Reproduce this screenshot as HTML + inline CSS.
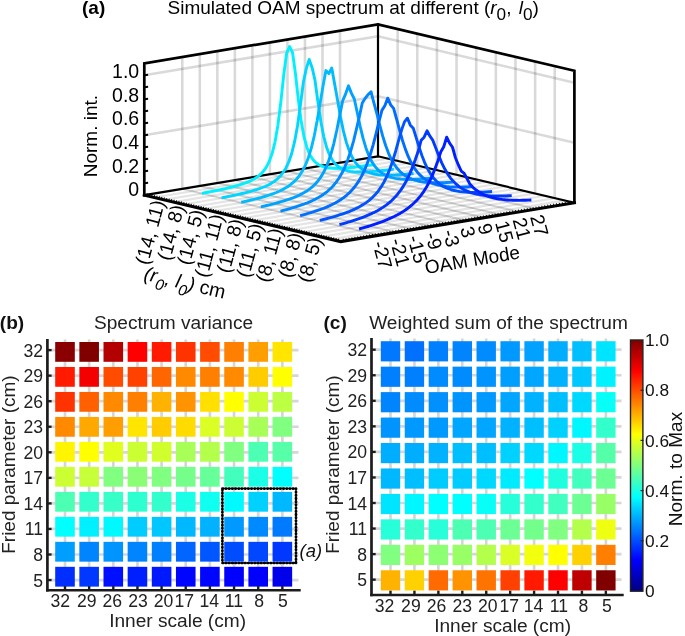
<!DOCTYPE html>
<html><head><meta charset="utf-8"><title>Figure</title>
<style>
html,body{margin:0;padding:0;background:#fff;}
svg{display:block;font-family:'Liberation Sans', sans-serif;}
</style></head><body>
<svg width="685" height="636" viewBox="0 0 685 636">
<rect width="685" height="636" fill="#fff"/>
<g id="panel-a">
<line x1="182.28" y1="188.88" x2="182.28" y2="56.98" stroke="#000" stroke-opacity="0.15" stroke-width="2.6"/>
<line x1="199.80" y1="185.96" x2="199.80" y2="54.06" stroke="#000" stroke-opacity="0.15" stroke-width="2.6"/>
<line x1="217.33" y1="183.04" x2="217.33" y2="51.14" stroke="#000" stroke-opacity="0.15" stroke-width="2.6"/>
<line x1="234.86" y1="180.13" x2="234.86" y2="48.23" stroke="#000" stroke-opacity="0.15" stroke-width="2.6"/>
<line x1="252.39" y1="177.21" x2="252.39" y2="45.31" stroke="#000" stroke-opacity="0.15" stroke-width="2.6"/>
<line x1="269.91" y1="174.29" x2="269.91" y2="42.39" stroke="#000" stroke-opacity="0.15" stroke-width="2.6"/>
<line x1="287.44" y1="171.37" x2="287.44" y2="39.47" stroke="#000" stroke-opacity="0.15" stroke-width="2.6"/>
<line x1="304.97" y1="168.46" x2="304.97" y2="36.56" stroke="#000" stroke-opacity="0.15" stroke-width="2.6"/>
<line x1="322.50" y1="165.54" x2="322.50" y2="33.64" stroke="#000" stroke-opacity="0.15" stroke-width="2.6"/>
<line x1="340.02" y1="162.62" x2="340.02" y2="30.72" stroke="#000" stroke-opacity="0.15" stroke-width="2.6"/>
<line x1="144.30" y1="135.20" x2="378.00" y2="96.30" stroke="#000" stroke-opacity="0.15" stroke-width="2.6"/>
<line x1="378.00" y1="96.30" x2="574.40" y2="142.70" stroke="#000" stroke-opacity="0.15" stroke-width="2.6"/>
<line x1="144.30" y1="75.20" x2="378.00" y2="36.30" stroke="#000" stroke-opacity="0.15" stroke-width="2.6"/>
<line x1="378.00" y1="36.30" x2="574.40" y2="82.70" stroke="#000" stroke-opacity="0.15" stroke-width="2.6"/>
<line x1="397.64" y1="160.94" x2="397.64" y2="29.04" stroke="#000" stroke-opacity="0.15" stroke-width="2.6"/>
<line x1="417.28" y1="165.58" x2="417.28" y2="33.68" stroke="#000" stroke-opacity="0.15" stroke-width="2.6"/>
<line x1="436.92" y1="170.22" x2="436.92" y2="38.32" stroke="#000" stroke-opacity="0.15" stroke-width="2.6"/>
<line x1="456.56" y1="174.86" x2="456.56" y2="42.96" stroke="#000" stroke-opacity="0.15" stroke-width="2.6"/>
<line x1="476.20" y1="179.50" x2="476.20" y2="47.60" stroke="#000" stroke-opacity="0.15" stroke-width="2.6"/>
<line x1="495.84" y1="184.14" x2="495.84" y2="52.24" stroke="#000" stroke-opacity="0.15" stroke-width="2.6"/>
<line x1="515.48" y1="188.78" x2="515.48" y2="56.88" stroke="#000" stroke-opacity="0.15" stroke-width="2.6"/>
<line x1="535.12" y1="193.42" x2="535.12" y2="61.52" stroke="#000" stroke-opacity="0.15" stroke-width="2.6"/>
<line x1="554.76" y1="198.06" x2="554.76" y2="66.16" stroke="#000" stroke-opacity="0.15" stroke-width="2.6"/>
<line x1="154.12" y1="197.52" x2="387.82" y2="158.62" stroke="#000" stroke-opacity="0.105" stroke-width="2.2"/>
<line x1="163.94" y1="199.84" x2="397.64" y2="160.94" stroke="#000" stroke-opacity="0.105" stroke-width="2.2"/>
<line x1="173.76" y1="202.16" x2="407.46" y2="163.26" stroke="#000" stroke-opacity="0.105" stroke-width="2.2"/>
<line x1="183.58" y1="204.48" x2="417.28" y2="165.58" stroke="#000" stroke-opacity="0.105" stroke-width="2.2"/>
<line x1="193.40" y1="206.80" x2="427.10" y2="167.90" stroke="#000" stroke-opacity="0.105" stroke-width="2.2"/>
<line x1="203.22" y1="209.12" x2="436.92" y2="170.22" stroke="#000" stroke-opacity="0.105" stroke-width="2.2"/>
<line x1="213.04" y1="211.44" x2="446.74" y2="172.54" stroke="#000" stroke-opacity="0.105" stroke-width="2.2"/>
<line x1="222.86" y1="213.76" x2="456.56" y2="174.86" stroke="#000" stroke-opacity="0.105" stroke-width="2.2"/>
<line x1="232.68" y1="216.08" x2="466.38" y2="177.18" stroke="#000" stroke-opacity="0.105" stroke-width="2.2"/>
<line x1="242.50" y1="218.40" x2="476.20" y2="179.50" stroke="#000" stroke-opacity="0.105" stroke-width="2.2"/>
<line x1="252.32" y1="220.72" x2="486.02" y2="181.82" stroke="#000" stroke-opacity="0.105" stroke-width="2.2"/>
<line x1="262.14" y1="223.04" x2="495.84" y2="184.14" stroke="#000" stroke-opacity="0.105" stroke-width="2.2"/>
<line x1="271.96" y1="225.36" x2="505.66" y2="186.46" stroke="#000" stroke-opacity="0.105" stroke-width="2.2"/>
<line x1="281.78" y1="227.68" x2="515.48" y2="188.78" stroke="#000" stroke-opacity="0.105" stroke-width="2.2"/>
<line x1="291.60" y1="230.00" x2="525.30" y2="191.10" stroke="#000" stroke-opacity="0.105" stroke-width="2.2"/>
<line x1="301.42" y1="232.32" x2="535.12" y2="193.42" stroke="#000" stroke-opacity="0.105" stroke-width="2.2"/>
<line x1="311.24" y1="234.64" x2="544.94" y2="195.74" stroke="#000" stroke-opacity="0.105" stroke-width="2.2"/>
<line x1="321.06" y1="236.96" x2="554.76" y2="198.06" stroke="#000" stroke-opacity="0.105" stroke-width="2.2"/>
<line x1="330.88" y1="239.28" x2="564.58" y2="200.38" stroke="#000" stroke-opacity="0.105" stroke-width="2.2"/>
<line x1="182.28" y1="188.88" x2="378.68" y2="235.28" stroke="#000" stroke-opacity="0.17" stroke-width="2.0"/>
<line x1="199.80" y1="185.96" x2="396.20" y2="232.36" stroke="#000" stroke-opacity="0.17" stroke-width="2.0"/>
<line x1="217.33" y1="183.04" x2="413.73" y2="229.44" stroke="#000" stroke-opacity="0.17" stroke-width="2.0"/>
<line x1="234.86" y1="180.13" x2="431.26" y2="226.53" stroke="#000" stroke-opacity="0.17" stroke-width="2.0"/>
<line x1="252.39" y1="177.21" x2="448.79" y2="223.61" stroke="#000" stroke-opacity="0.17" stroke-width="2.0"/>
<line x1="269.91" y1="174.29" x2="466.31" y2="220.69" stroke="#000" stroke-opacity="0.17" stroke-width="2.0"/>
<line x1="287.44" y1="171.37" x2="483.84" y2="217.77" stroke="#000" stroke-opacity="0.17" stroke-width="2.0"/>
<line x1="304.97" y1="168.46" x2="501.37" y2="214.86" stroke="#000" stroke-opacity="0.17" stroke-width="2.0"/>
<line x1="322.50" y1="165.54" x2="518.90" y2="211.94" stroke="#000" stroke-opacity="0.17" stroke-width="2.0"/>
<line x1="340.02" y1="162.62" x2="536.42" y2="209.02" stroke="#000" stroke-opacity="0.17" stroke-width="2.0"/>
<g stroke="#000" stroke-width="2.2" fill="none" stroke-linejoin="miter" stroke-linecap="square">
<polyline points="144.30,195.20 378.00,156.30 574.40,202.70"/>
<polyline points="378.00,156.30 378.00,24.40"/>
</g>
<polyline points="201.92,193.32 204.84,192.77 207.76,192.21 210.68,191.64 213.60,191.07 216.52,190.47 219.44,189.87 222.37,189.24 225.29,188.60 228.21,187.93 231.13,187.22 234.05,186.48 236.97,185.69 239.89,184.83 242.81,183.90 245.74,182.86 248.66,181.69 251.58,180.35 254.50,178.76 257.42,176.84 260.34,174.45 263.26,171.38 266.18,167.31 269.11,161.72 272.03,153.79 274.95,142.28 277.87,125.52 280.79,102.31 283.71,75.03 286.63,53.28 289.55,46.53 292.48,52.31 295.40,73.08 298.32,99.39 301.24,121.63 304.16,137.42 307.08,147.96 310.00,154.91 312.92,159.53 315.85,162.63 318.77,164.73 321.69,166.14 324.61,167.09 327.53,167.71 330.45,168.08 333.37,168.28 336.29,168.34 339.22,168.30 342.14,168.18 345.06,168.00 347.98,167.77 350.90,167.50 353.82,167.20 356.74,166.88 359.66,166.53 362.59,166.16 365.51,165.78 368.43,165.39 371.35,164.98 374.27,164.57" fill="none" stroke="rgb(0,240,255)" stroke-width="2.9" stroke-linejoin="round" stroke-linecap="butt"/>
<polyline points="221.56,197.87 224.48,197.29 227.40,196.70 230.32,196.10 233.24,195.48 236.16,194.85 239.08,194.20 242.00,193.52 244.93,192.82 247.85,192.08 250.77,191.29 253.69,190.46 256.61,189.56 259.53,188.59 262.45,187.51 265.38,186.31 268.30,184.94 271.22,183.36 274.14,181.48 277.06,179.22 279.98,176.41 282.90,172.85 285.82,168.20 288.75,161.98 291.67,153.48 294.59,141.72 297.51,125.66 300.43,105.04 303.35,82.49 306.27,68.66 309.19,59.37 312.12,67.69 315.04,80.55 317.96,102.12 320.88,121.77 323.80,136.85 326.72,147.64 329.64,155.17 332.56,160.42 335.49,164.10 338.41,166.69 341.33,168.52 344.25,169.81 347.17,170.71 350.09,171.33 353.01,171.72 355.93,171.95 358.86,172.06 361.78,172.06 364.70,171.98 367.62,171.84 370.54,171.65 373.46,171.42 376.38,171.15 379.30,170.86 382.23,170.54 385.15,170.20 388.07,169.84 390.99,169.47 393.91,169.09" fill="none" stroke="rgb(0,214,255)" stroke-width="2.9" stroke-linejoin="round" stroke-linecap="butt"/>
<polyline points="241.20,202.29 244.12,201.65 247.04,200.99 249.96,200.32 252.88,199.62 255.80,198.89 258.72,198.13 261.65,197.34 264.57,196.50 267.49,195.60 270.41,194.65 273.33,193.62 276.25,192.49 279.17,191.25 282.09,189.86 285.01,188.30 287.94,186.50 290.86,184.42 293.78,181.95 296.70,178.97 299.62,175.34 302.54,170.80 305.46,165.06 308.38,157.69 311.31,148.18 314.23,135.98 317.15,120.83 320.07,103.37 322.99,86.14 325.91,70.58 328.83,73.61 331.75,67.99 334.68,84.20 337.60,100.45 340.52,116.94 343.44,131.12 346.36,142.35 349.28,150.89 352.20,157.28 355.12,162.05 358.05,165.61 360.97,168.28 363.89,170.28 366.81,171.77 369.73,172.89 372.65,173.71 375.57,174.30 378.50,174.72 381.42,174.99 384.34,175.14 387.26,175.20 390.18,175.18 393.10,175.10 396.02,174.97 398.94,174.79 401.87,174.58 404.79,174.33 407.71,174.06 410.63,173.76 413.55,173.45" fill="none" stroke="rgb(0,188,255)" stroke-width="2.9" stroke-linejoin="round" stroke-linecap="butt"/>
<polyline points="260.84,206.83 263.76,206.17 266.68,205.49 269.60,204.79 272.52,204.06 275.44,203.31 278.36,202.52 281.29,201.69 284.21,200.81 287.13,199.88 290.05,198.88 292.97,197.80 295.89,196.63 298.81,195.34 301.73,193.91 304.65,192.29 307.58,190.45 310.50,188.32 313.42,185.83 316.34,182.87 319.26,179.29 322.18,174.91 325.10,169.46 328.02,162.62 330.95,154.02 333.87,143.26 336.79,130.23 339.71,115.48 342.63,100.94 345.55,94.13 348.47,85.85 351.39,93.16 354.32,99.00 357.24,112.56 360.16,126.34 363.08,138.40 366.00,148.18 368.92,155.82 371.84,161.68 374.76,166.15 377.69,169.57 380.61,172.17 383.53,174.16 386.45,175.68 389.37,176.83 392.29,177.70 395.21,178.35 398.13,178.81 401.06,179.13 403.98,179.33 406.90,179.43 409.82,179.46 412.74,179.42 415.66,179.32 418.58,179.18 421.50,178.99 424.43,178.78 427.35,178.53 430.27,178.26 433.19,177.97" fill="none" stroke="rgb(0,162,255)" stroke-width="2.9" stroke-linejoin="round" stroke-linecap="butt"/>
<polyline points="280.48,211.12 283.40,210.38 286.32,209.60 289.24,208.80 292.16,207.96 295.08,207.08 298.00,206.16 300.93,205.18 303.85,204.14 306.77,203.02 309.69,201.82 312.61,200.51 315.53,199.08 318.45,197.51 321.37,195.75 324.30,193.77 327.22,191.53 330.14,188.95 333.06,185.96 335.98,182.44 338.90,178.28 341.82,173.31 344.74,167.31 347.67,160.07 350.59,151.36 353.51,141.03 356.43,129.22 359.35,116.56 362.27,102.98 365.19,98.23 368.11,94.53 371.04,91.82 373.96,103.10 376.88,113.65 379.80,125.33 382.72,136.17 385.64,145.52 388.56,153.27 391.48,159.53 394.41,164.56 397.33,168.56 400.25,171.75 403.17,174.29 406.09,176.31 409.01,177.91 411.93,179.19 414.85,180.19 417.77,180.97 420.70,181.58 423.62,182.04 426.54,182.37 429.46,182.60 432.38,182.74 435.30,182.81 438.22,182.82 441.14,182.77 444.07,182.68 446.99,182.54 449.91,182.37 452.83,182.17" fill="none" stroke="rgb(0,136,255)" stroke-width="2.9" stroke-linejoin="round" stroke-linecap="butt"/>
<polyline points="300.12,215.61 303.04,214.84 305.96,214.03 308.88,213.19 311.80,212.31 314.72,211.39 317.64,210.42 320.57,209.39 323.49,208.29 326.41,207.11 329.33,205.85 332.25,204.47 335.17,202.96 338.09,201.30 341.01,199.45 343.94,197.38 346.86,195.03 349.78,192.35 352.70,189.25 355.62,185.64 358.54,181.40 361.46,176.37 364.38,170.37 367.31,163.22 370.23,154.73 373.15,144.80 376.07,133.57 378.99,121.66 381.91,110.38 384.83,105.82 387.75,98.13 390.68,104.84 393.60,108.44 396.52,118.75 399.44,129.68 402.36,139.94 405.28,148.89 408.20,156.41 411.12,162.59 414.05,167.61 416.97,171.67 419.89,174.94 422.81,177.58 425.73,179.70 428.65,181.42 431.57,182.79 434.49,183.89 437.42,184.77 440.34,185.46 443.26,185.99 446.18,186.40 449.10,186.69 452.02,186.90 454.94,187.02 457.86,187.08 460.79,187.08 463.71,187.03 466.63,186.93 469.55,186.80 472.47,186.63" fill="none" stroke="rgb(0,110,255)" stroke-width="2.9" stroke-linejoin="round" stroke-linecap="butt"/>
<polyline points="319.76,220.44 322.68,219.71 325.60,218.97 328.52,218.19 331.44,217.39 334.36,216.55 337.28,215.67 340.21,214.74 343.13,213.76 346.05,212.72 348.97,211.60 351.89,210.40 354.81,209.10 357.73,207.67 360.65,206.09 363.58,204.34 366.50,202.36 369.42,200.12 372.34,197.55 375.26,194.56 378.18,191.07 381.10,186.93 384.02,182.00 386.95,176.09 389.87,169.02 392.79,160.65 395.71,151.00 398.63,140.47 401.55,130.14 404.47,121.89 407.39,118.17 410.32,125.18 413.24,128.19 416.16,137.56 419.08,147.11 422.00,155.79 424.92,163.19 427.84,169.28 430.76,174.22 433.69,178.18 436.61,181.34 439.53,183.87 442.45,185.88 445.37,187.48 448.29,188.75 451.21,189.75 454.13,190.53 457.06,191.13 459.98,191.59 462.90,191.92 465.82,192.15 468.74,192.30 471.66,192.37 474.58,192.37 477.50,192.33 480.43,192.23 483.35,192.10 486.27,191.93 489.19,191.74 492.11,191.51" fill="none" stroke="rgb(0,84,255)" stroke-width="2.9" stroke-linejoin="round" stroke-linecap="butt"/>
<polyline points="339.40,224.66 342.32,223.86 345.24,223.04 348.16,222.19 351.08,221.30 354.00,220.37 356.92,219.40 359.85,218.38 362.77,217.30 365.69,216.16 368.61,214.94 371.53,213.62 374.45,212.21 377.37,210.67 380.29,208.99 383.22,207.14 386.14,205.10 389.06,202.80 391.98,200.22 394.90,197.30 397.82,193.95 400.74,190.09 403.66,185.62 406.59,180.42 409.51,174.39 412.43,167.43 415.35,159.56 418.27,151.00 421.19,140.24 424.11,137.17 427.03,130.81 429.96,136.19 432.88,140.40 435.80,148.08 438.72,155.67 441.64,162.57 444.56,168.55 447.48,173.62 450.40,177.84 453.33,181.33 456.25,184.22 459.17,186.60 462.09,188.55 465.01,190.16 467.93,191.48 470.85,192.56 473.77,193.43 476.70,194.14 479.62,194.70 482.54,195.15 485.46,195.49 488.38,195.73 491.30,195.91 494.22,196.01 497.14,196.06 500.07,196.06 502.99,196.01 505.91,195.93 508.83,195.81 511.75,195.66" fill="none" stroke="rgb(0,58,255)" stroke-width="2.9" stroke-linejoin="round" stroke-linecap="butt"/>
<polyline points="359.04,229.01 361.96,228.20 364.88,227.36 367.80,226.49 370.72,225.58 373.64,224.64 376.56,223.66 379.49,222.63 382.41,221.54 385.33,220.40 388.25,219.19 391.17,217.90 394.09,216.51 397.01,215.02 399.93,213.41 402.86,211.65 405.78,209.72 408.70,207.58 411.62,205.20 414.54,202.53 417.46,199.51 420.38,196.07 423.30,192.11 426.23,187.53 429.15,182.21 432.07,176.01 434.99,168.83 437.91,160.67 440.83,151.79 443.75,146.77 446.67,137.25 449.60,143.22 452.52,147.24 455.44,157.75 458.36,164.94 461.28,171.15 464.20,173.43 467.12,178.81 470.04,184.33 472.97,187.32 475.89,189.79 478.81,191.84 481.73,193.53 484.65,194.94 487.57,196.10 490.49,197.06 493.41,197.85 496.34,198.49 499.26,199.01 502.18,199.42 505.10,199.74 508.02,199.98 510.94,200.15 513.86,200.26 516.78,200.32 519.71,200.33 522.63,200.30 525.55,200.23 528.47,200.13 531.39,200.00" fill="none" stroke="rgb(0,32,255)" stroke-width="2.9" stroke-linejoin="round" stroke-linecap="butt"/>
<g stroke="#000" stroke-width="2.7" fill="none" stroke-linejoin="miter" stroke-linecap="square">
<polyline points="144.30,195.20 144.30,63.30 378.00,24.40 574.40,70.80 574.40,202.70"/>
<polyline stroke-width="3.1" points="144.30,195.20 340.70,241.60 574.40,202.70"/>
</g>
<line x1="144.30" y1="195.20" x2="148.10" y2="194.80" stroke="#000" stroke-width="2.0" />
<line x1="144.30" y1="183.20" x2="148.10" y2="182.80" stroke="#000" stroke-width="2.0" />
<line x1="144.30" y1="171.20" x2="148.10" y2="170.80" stroke="#000" stroke-width="2.0" />
<line x1="144.30" y1="159.20" x2="148.10" y2="158.80" stroke="#000" stroke-width="2.0" />
<line x1="144.30" y1="147.20" x2="148.10" y2="146.80" stroke="#000" stroke-width="2.0" />
<line x1="144.30" y1="135.20" x2="148.10" y2="134.80" stroke="#000" stroke-width="2.0" />
<line x1="144.30" y1="123.20" x2="148.10" y2="122.80" stroke="#000" stroke-width="2.0" />
<line x1="144.30" y1="111.20" x2="148.10" y2="110.80" stroke="#000" stroke-width="2.0" />
<line x1="144.30" y1="99.20" x2="148.10" y2="98.80" stroke="#000" stroke-width="2.0" />
<line x1="144.30" y1="87.20" x2="148.10" y2="86.80" stroke="#000" stroke-width="2.0" />
<line x1="144.30" y1="75.20" x2="148.10" y2="74.80" stroke="#000" stroke-width="2.0" />
<line x1="146.76" y1="195.78" x2="147.16" y2="193.38" stroke="#000" stroke-width="1.0" />
<line x1="149.21" y1="196.36" x2="149.61" y2="193.96" stroke="#000" stroke-width="1.0" />
<line x1="151.67" y1="196.94" x2="152.07" y2="194.54" stroke="#000" stroke-width="1.0" />
<line x1="154.12" y1="197.52" x2="154.52" y2="195.12" stroke="#000" stroke-width="1.0" />
<line x1="156.58" y1="198.10" x2="156.98" y2="195.70" stroke="#000" stroke-width="1.0" />
<line x1="159.03" y1="198.68" x2="159.43" y2="196.28" stroke="#000" stroke-width="1.0" />
<line x1="161.49" y1="199.26" x2="161.89" y2="196.86" stroke="#000" stroke-width="1.0" />
<line x1="163.94" y1="199.84" x2="164.34" y2="197.44" stroke="#000" stroke-width="1.0" />
<line x1="166.40" y1="200.42" x2="166.80" y2="198.02" stroke="#000" stroke-width="1.0" />
<line x1="168.85" y1="201.00" x2="169.25" y2="198.60" stroke="#000" stroke-width="1.0" />
<line x1="171.31" y1="201.58" x2="171.71" y2="199.18" stroke="#000" stroke-width="1.0" />
<line x1="173.76" y1="202.16" x2="174.16" y2="199.76" stroke="#000" stroke-width="1.0" />
<line x1="176.22" y1="202.74" x2="176.62" y2="200.34" stroke="#000" stroke-width="1.0" />
<line x1="178.67" y1="203.32" x2="179.07" y2="200.92" stroke="#000" stroke-width="1.0" />
<line x1="181.12" y1="203.90" x2="181.53" y2="201.50" stroke="#000" stroke-width="1.0" />
<line x1="183.58" y1="204.48" x2="183.98" y2="202.08" stroke="#000" stroke-width="1.0" />
<line x1="186.04" y1="205.06" x2="186.44" y2="202.66" stroke="#000" stroke-width="1.0" />
<line x1="188.49" y1="205.64" x2="188.89" y2="203.24" stroke="#000" stroke-width="1.0" />
<line x1="190.95" y1="206.22" x2="191.35" y2="203.82" stroke="#000" stroke-width="1.0" />
<line x1="193.40" y1="206.80" x2="193.80" y2="204.40" stroke="#000" stroke-width="1.0" />
<line x1="195.86" y1="207.38" x2="196.26" y2="204.98" stroke="#000" stroke-width="1.0" />
<line x1="198.31" y1="207.96" x2="198.71" y2="205.56" stroke="#000" stroke-width="1.0" />
<line x1="200.77" y1="208.54" x2="201.17" y2="206.14" stroke="#000" stroke-width="1.0" />
<line x1="203.22" y1="209.12" x2="203.62" y2="206.72" stroke="#000" stroke-width="1.0" />
<line x1="205.68" y1="209.70" x2="206.08" y2="207.30" stroke="#000" stroke-width="1.0" />
<line x1="208.13" y1="210.28" x2="208.53" y2="207.88" stroke="#000" stroke-width="1.0" />
<line x1="210.59" y1="210.86" x2="210.99" y2="208.46" stroke="#000" stroke-width="1.0" />
<line x1="213.04" y1="211.44" x2="213.44" y2="209.04" stroke="#000" stroke-width="1.0" />
<line x1="215.50" y1="212.02" x2="215.90" y2="209.62" stroke="#000" stroke-width="1.0" />
<line x1="217.95" y1="212.60" x2="218.35" y2="210.20" stroke="#000" stroke-width="1.0" />
<line x1="220.41" y1="213.18" x2="220.81" y2="210.78" stroke="#000" stroke-width="1.0" />
<line x1="222.86" y1="213.76" x2="223.26" y2="211.36" stroke="#000" stroke-width="1.0" />
<line x1="225.32" y1="214.34" x2="225.72" y2="211.94" stroke="#000" stroke-width="1.0" />
<line x1="227.77" y1="214.92" x2="228.17" y2="212.52" stroke="#000" stroke-width="1.0" />
<line x1="230.23" y1="215.50" x2="230.63" y2="213.10" stroke="#000" stroke-width="1.0" />
<line x1="232.68" y1="216.08" x2="233.08" y2="213.68" stroke="#000" stroke-width="1.0" />
<line x1="235.14" y1="216.66" x2="235.54" y2="214.26" stroke="#000" stroke-width="1.0" />
<line x1="237.59" y1="217.24" x2="237.99" y2="214.84" stroke="#000" stroke-width="1.0" />
<line x1="240.05" y1="217.82" x2="240.45" y2="215.42" stroke="#000" stroke-width="1.0" />
<line x1="242.50" y1="218.40" x2="242.90" y2="216.00" stroke="#000" stroke-width="1.0" />
<line x1="244.96" y1="218.98" x2="245.36" y2="216.58" stroke="#000" stroke-width="1.0" />
<line x1="247.41" y1="219.56" x2="247.81" y2="217.16" stroke="#000" stroke-width="1.0" />
<line x1="249.87" y1="220.14" x2="250.27" y2="217.74" stroke="#000" stroke-width="1.0" />
<line x1="252.32" y1="220.72" x2="252.72" y2="218.32" stroke="#000" stroke-width="1.0" />
<line x1="254.78" y1="221.30" x2="255.18" y2="218.90" stroke="#000" stroke-width="1.0" />
<line x1="257.23" y1="221.88" x2="257.63" y2="219.48" stroke="#000" stroke-width="1.0" />
<line x1="259.69" y1="222.46" x2="260.09" y2="220.06" stroke="#000" stroke-width="1.0" />
<line x1="262.14" y1="223.04" x2="262.54" y2="220.64" stroke="#000" stroke-width="1.0" />
<line x1="264.60" y1="223.62" x2="265.00" y2="221.22" stroke="#000" stroke-width="1.0" />
<line x1="267.05" y1="224.20" x2="267.45" y2="221.80" stroke="#000" stroke-width="1.0" />
<line x1="269.50" y1="224.78" x2="269.90" y2="222.38" stroke="#000" stroke-width="1.0" />
<line x1="271.96" y1="225.36" x2="272.36" y2="222.96" stroke="#000" stroke-width="1.0" />
<line x1="274.42" y1="225.94" x2="274.81" y2="223.54" stroke="#000" stroke-width="1.0" />
<line x1="276.87" y1="226.52" x2="277.27" y2="224.12" stroke="#000" stroke-width="1.0" />
<line x1="279.33" y1="227.10" x2="279.73" y2="224.70" stroke="#000" stroke-width="1.0" />
<line x1="281.78" y1="227.68" x2="282.18" y2="225.28" stroke="#000" stroke-width="1.0" />
<line x1="284.24" y1="228.26" x2="284.63" y2="225.86" stroke="#000" stroke-width="1.0" />
<line x1="286.69" y1="228.84" x2="287.09" y2="226.44" stroke="#000" stroke-width="1.0" />
<line x1="289.15" y1="229.42" x2="289.55" y2="227.02" stroke="#000" stroke-width="1.0" />
<line x1="291.60" y1="230.00" x2="292.00" y2="227.60" stroke="#000" stroke-width="1.0" />
<line x1="294.06" y1="230.58" x2="294.46" y2="228.18" stroke="#000" stroke-width="1.0" />
<line x1="296.51" y1="231.16" x2="296.91" y2="228.76" stroke="#000" stroke-width="1.0" />
<line x1="298.97" y1="231.74" x2="299.37" y2="229.34" stroke="#000" stroke-width="1.0" />
<line x1="301.42" y1="232.32" x2="301.82" y2="229.92" stroke="#000" stroke-width="1.0" />
<line x1="303.88" y1="232.90" x2="304.27" y2="230.50" stroke="#000" stroke-width="1.0" />
<line x1="306.33" y1="233.48" x2="306.73" y2="231.08" stroke="#000" stroke-width="1.0" />
<line x1="308.79" y1="234.06" x2="309.19" y2="231.66" stroke="#000" stroke-width="1.0" />
<line x1="311.24" y1="234.64" x2="311.64" y2="232.24" stroke="#000" stroke-width="1.0" />
<line x1="313.70" y1="235.22" x2="314.10" y2="232.82" stroke="#000" stroke-width="1.0" />
<line x1="316.15" y1="235.80" x2="316.55" y2="233.40" stroke="#000" stroke-width="1.0" />
<line x1="318.61" y1="236.38" x2="319.00" y2="233.98" stroke="#000" stroke-width="1.0" />
<line x1="321.06" y1="236.96" x2="321.46" y2="234.56" stroke="#000" stroke-width="1.0" />
<line x1="323.52" y1="237.54" x2="323.92" y2="235.14" stroke="#000" stroke-width="1.0" />
<line x1="325.97" y1="238.12" x2="326.37" y2="235.72" stroke="#000" stroke-width="1.0" />
<line x1="328.43" y1="238.70" x2="328.83" y2="236.30" stroke="#000" stroke-width="1.0" />
<line x1="330.88" y1="239.28" x2="331.28" y2="236.88" stroke="#000" stroke-width="1.0" />
<line x1="333.34" y1="239.86" x2="333.74" y2="237.46" stroke="#000" stroke-width="1.0" />
<line x1="335.79" y1="240.44" x2="336.19" y2="238.04" stroke="#000" stroke-width="1.0" />
<line x1="338.25" y1="241.02" x2="338.65" y2="238.62" stroke="#000" stroke-width="1.0" />
<line x1="343.62" y1="241.11" x2="343.12" y2="238.71" stroke="#000" stroke-width="0.9" />
<line x1="346.54" y1="240.63" x2="346.04" y2="238.23" stroke="#000" stroke-width="0.9" />
<line x1="349.46" y1="240.14" x2="348.96" y2="237.74" stroke="#000" stroke-width="0.9" />
<line x1="352.39" y1="239.65" x2="351.89" y2="237.25" stroke="#000" stroke-width="0.9" />
<line x1="355.31" y1="239.17" x2="354.81" y2="236.77" stroke="#000" stroke-width="0.9" />
<line x1="358.23" y1="238.68" x2="357.73" y2="236.28" stroke="#000" stroke-width="0.9" />
<line x1="361.15" y1="238.20" x2="360.65" y2="235.80" stroke="#000" stroke-width="0.9" />
<line x1="364.07" y1="237.71" x2="363.57" y2="235.31" stroke="#000" stroke-width="0.9" />
<line x1="366.99" y1="237.22" x2="366.49" y2="234.82" stroke="#000" stroke-width="0.9" />
<line x1="369.91" y1="236.74" x2="369.41" y2="234.34" stroke="#000" stroke-width="0.9" />
<line x1="372.83" y1="236.25" x2="372.33" y2="233.85" stroke="#000" stroke-width="0.9" />
<line x1="375.76" y1="235.76" x2="375.26" y2="233.36" stroke="#000" stroke-width="0.9" />
<line x1="378.68" y1="235.28" x2="378.18" y2="232.88" stroke="#000" stroke-width="0.9" />
<line x1="381.60" y1="234.79" x2="381.10" y2="232.39" stroke="#000" stroke-width="0.9" />
<line x1="384.52" y1="234.31" x2="384.02" y2="231.91" stroke="#000" stroke-width="0.9" />
<line x1="387.44" y1="233.82" x2="386.94" y2="231.42" stroke="#000" stroke-width="0.9" />
<line x1="390.36" y1="233.33" x2="389.86" y2="230.93" stroke="#000" stroke-width="0.9" />
<line x1="393.28" y1="232.85" x2="392.78" y2="230.45" stroke="#000" stroke-width="0.9" />
<line x1="396.20" y1="232.36" x2="395.70" y2="229.96" stroke="#000" stroke-width="0.9" />
<line x1="399.13" y1="231.87" x2="398.63" y2="229.47" stroke="#000" stroke-width="0.9" />
<line x1="402.05" y1="231.39" x2="401.55" y2="228.99" stroke="#000" stroke-width="0.9" />
<line x1="404.97" y1="230.90" x2="404.47" y2="228.50" stroke="#000" stroke-width="0.9" />
<line x1="407.89" y1="230.42" x2="407.39" y2="228.02" stroke="#000" stroke-width="0.9" />
<line x1="410.81" y1="229.93" x2="410.31" y2="227.53" stroke="#000" stroke-width="0.9" />
<line x1="413.73" y1="229.44" x2="413.23" y2="227.04" stroke="#000" stroke-width="0.9" />
<line x1="416.65" y1="228.96" x2="416.15" y2="226.56" stroke="#000" stroke-width="0.9" />
<line x1="419.57" y1="228.47" x2="419.07" y2="226.07" stroke="#000" stroke-width="0.9" />
<line x1="422.50" y1="227.98" x2="422.00" y2="225.58" stroke="#000" stroke-width="0.9" />
<line x1="425.42" y1="227.50" x2="424.92" y2="225.10" stroke="#000" stroke-width="0.9" />
<line x1="428.34" y1="227.01" x2="427.84" y2="224.61" stroke="#000" stroke-width="0.9" />
<line x1="431.26" y1="226.53" x2="430.76" y2="224.13" stroke="#000" stroke-width="0.9" />
<line x1="434.18" y1="226.04" x2="433.68" y2="223.64" stroke="#000" stroke-width="0.9" />
<line x1="437.10" y1="225.55" x2="436.60" y2="223.15" stroke="#000" stroke-width="0.9" />
<line x1="440.02" y1="225.07" x2="439.52" y2="222.67" stroke="#000" stroke-width="0.9" />
<line x1="442.94" y1="224.58" x2="442.44" y2="222.18" stroke="#000" stroke-width="0.9" />
<line x1="445.87" y1="224.09" x2="445.37" y2="221.69" stroke="#000" stroke-width="0.9" />
<line x1="448.79" y1="223.61" x2="448.29" y2="221.21" stroke="#000" stroke-width="0.9" />
<line x1="451.71" y1="223.12" x2="451.21" y2="220.72" stroke="#000" stroke-width="0.9" />
<line x1="454.63" y1="222.64" x2="454.13" y2="220.24" stroke="#000" stroke-width="0.9" />
<line x1="457.55" y1="222.15" x2="457.05" y2="219.75" stroke="#000" stroke-width="0.9" />
<line x1="460.47" y1="221.66" x2="459.97" y2="219.26" stroke="#000" stroke-width="0.9" />
<line x1="463.39" y1="221.18" x2="462.89" y2="218.78" stroke="#000" stroke-width="0.9" />
<line x1="466.31" y1="220.69" x2="465.81" y2="218.29" stroke="#000" stroke-width="0.9" />
<line x1="469.24" y1="220.20" x2="468.74" y2="217.80" stroke="#000" stroke-width="0.9" />
<line x1="472.16" y1="219.72" x2="471.66" y2="217.32" stroke="#000" stroke-width="0.9" />
<line x1="475.08" y1="219.23" x2="474.58" y2="216.83" stroke="#000" stroke-width="0.9" />
<line x1="478.00" y1="218.75" x2="477.50" y2="216.35" stroke="#000" stroke-width="0.9" />
<line x1="480.92" y1="218.26" x2="480.42" y2="215.86" stroke="#000" stroke-width="0.9" />
<line x1="483.84" y1="217.77" x2="483.34" y2="215.37" stroke="#000" stroke-width="0.9" />
<line x1="486.76" y1="217.29" x2="486.26" y2="214.89" stroke="#000" stroke-width="0.9" />
<line x1="489.68" y1="216.80" x2="489.18" y2="214.40" stroke="#000" stroke-width="0.9" />
<line x1="492.61" y1="216.31" x2="492.11" y2="213.91" stroke="#000" stroke-width="0.9" />
<line x1="495.53" y1="215.83" x2="495.03" y2="213.43" stroke="#000" stroke-width="0.9" />
<line x1="498.45" y1="215.34" x2="497.95" y2="212.94" stroke="#000" stroke-width="0.9" />
<line x1="501.37" y1="214.86" x2="500.87" y2="212.46" stroke="#000" stroke-width="0.9" />
<line x1="504.29" y1="214.37" x2="503.79" y2="211.97" stroke="#000" stroke-width="0.9" />
<line x1="507.21" y1="213.88" x2="506.71" y2="211.48" stroke="#000" stroke-width="0.9" />
<line x1="510.13" y1="213.40" x2="509.63" y2="211.00" stroke="#000" stroke-width="0.9" />
<line x1="513.05" y1="212.91" x2="512.55" y2="210.51" stroke="#000" stroke-width="0.9" />
<line x1="515.98" y1="212.42" x2="515.48" y2="210.02" stroke="#000" stroke-width="0.9" />
<line x1="518.90" y1="211.94" x2="518.40" y2="209.54" stroke="#000" stroke-width="0.9" />
<line x1="521.82" y1="211.45" x2="521.32" y2="209.05" stroke="#000" stroke-width="0.9" />
<line x1="524.74" y1="210.97" x2="524.24" y2="208.57" stroke="#000" stroke-width="0.9" />
<line x1="527.66" y1="210.48" x2="527.16" y2="208.08" stroke="#000" stroke-width="0.9" />
<line x1="530.58" y1="209.99" x2="530.08" y2="207.59" stroke="#000" stroke-width="0.9" />
<line x1="533.50" y1="209.51" x2="533.00" y2="207.11" stroke="#000" stroke-width="0.9" />
<line x1="536.42" y1="209.02" x2="535.92" y2="206.62" stroke="#000" stroke-width="0.9" />
<line x1="539.35" y1="208.53" x2="538.85" y2="206.13" stroke="#000" stroke-width="0.9" />
<line x1="542.27" y1="208.05" x2="541.77" y2="205.65" stroke="#000" stroke-width="0.9" />
<line x1="545.19" y1="207.56" x2="544.69" y2="205.16" stroke="#000" stroke-width="0.9" />
<line x1="548.11" y1="207.08" x2="547.61" y2="204.68" stroke="#000" stroke-width="0.9" />
<line x1="551.03" y1="206.59" x2="550.53" y2="204.19" stroke="#000" stroke-width="0.9" />
<line x1="553.95" y1="206.10" x2="553.45" y2="203.70" stroke="#000" stroke-width="0.9" />
<line x1="556.87" y1="205.62" x2="556.37" y2="203.22" stroke="#000" stroke-width="0.9" />
<line x1="559.79" y1="205.13" x2="559.29" y2="202.73" stroke="#000" stroke-width="0.9" />
<line x1="562.72" y1="204.64" x2="562.22" y2="202.24" stroke="#000" stroke-width="0.9" />
<line x1="565.64" y1="204.16" x2="565.14" y2="201.76" stroke="#000" stroke-width="0.9" />
<line x1="568.56" y1="203.67" x2="568.06" y2="201.27" stroke="#000" stroke-width="0.9" />
<line x1="571.48" y1="203.19" x2="570.98" y2="200.79" stroke="#000" stroke-width="0.9" />
<text x="139.2" y="196.40" font-size="19.5" text-anchor="end">0</text>
<text x="139.2" y="172.70" font-size="19.5" text-anchor="end">0.2</text>
<text x="139.2" y="149.00" font-size="19.5" text-anchor="end">0.4</text>
<text x="139.2" y="125.30" font-size="19.5" text-anchor="end">0.6</text>
<text x="139.2" y="101.60" font-size="19.5" text-anchor="end">0.8</text>
<text x="139.2" y="77.90" font-size="19.5" text-anchor="end">1.0</text>
<text transform="translate(97.3,136.1) rotate(-90)" font-size="19" text-anchor="middle">Norm. int.</text>
<text transform="translate(164.94,202.34) rotate(-75)" font-size="19.5" text-anchor="end">(14, 11)</text>
<text transform="translate(184.58,206.98) rotate(-75)" font-size="19.5" text-anchor="end">(14, 8)</text>
<text transform="translate(204.22,211.62) rotate(-75)" font-size="19.5" text-anchor="end">(14, 5)</text>
<text transform="translate(223.86,216.26) rotate(-75)" font-size="19.5" text-anchor="end">(11, 11)</text>
<text transform="translate(243.50,220.90) rotate(-75)" font-size="19.5" text-anchor="end">(11, 8)</text>
<text transform="translate(263.14,225.54) rotate(-75)" font-size="19.5" text-anchor="end">(11, 5)</text>
<text transform="translate(282.78,230.18) rotate(-75)" font-size="19.5" text-anchor="end">(8, 11)</text>
<text transform="translate(302.42,234.82) rotate(-75)" font-size="19.5" text-anchor="end">(8, 8)</text>
<text transform="translate(322.06,239.46) rotate(-75)" font-size="19.5" text-anchor="end">(8, 5)</text>
<text transform="translate(143,279.6) rotate(13.3)" font-size="19.5"><tspan font-style="italic">(r</tspan><tspan font-size="15.3" dy="6.3" font-style="italic">0</tspan><tspan dy="-6.3" font-style="italic">, l</tspan><tspan font-size="15.3" dy="6.3" font-style="italic">0</tspan><tspan dy="-6.3" font-style="italic">)</tspan> cm</text>
<text transform="translate(372.38,243.08) rotate(75)" font-size="19.5" text-anchor="start">-27</text>
<text transform="translate(389.90,240.16) rotate(75)" font-size="19.5" text-anchor="start">-21</text>
<text transform="translate(407.43,237.24) rotate(75)" font-size="19.5" text-anchor="start">-15</text>
<text transform="translate(424.96,234.33) rotate(75)" font-size="19.5" text-anchor="start">-9</text>
<text transform="translate(442.49,231.41) rotate(75)" font-size="19.5" text-anchor="start">-3</text>
<text transform="translate(460.01,228.49) rotate(75)" font-size="19.5" text-anchor="start">3</text>
<text transform="translate(477.54,225.57) rotate(75)" font-size="19.5" text-anchor="start">9</text>
<text transform="translate(495.07,222.66) rotate(75)" font-size="19.5" text-anchor="start">15</text>
<text transform="translate(512.60,219.74) rotate(75)" font-size="19.5" text-anchor="start">21</text>
<text transform="translate(530.12,216.82) rotate(75)" font-size="19.5" text-anchor="start">27</text>
<text transform="translate(473.4,266.2) rotate(-9.4)" font-size="19" text-anchor="middle">OAM Mode</text>
<text x="82" y="14.2" font-size="19" font-weight="bold" text-anchor="start">(a)</text>
<text x="167.5" y="14.2" font-size="19">Simulated OAM spectrum at different (<tspan font-style="italic">r</tspan><tspan font-size="17.2" dy="6.2">0</tspan><tspan dy="-6.2">, </tspan><tspan font-style="italic" dx="2">l</tspan><tspan font-size="17.2" dy="6.2">0</tspan><tspan dy="-6.2">)</tspan></text>
</g>
<g>
<line x1="65.00" y1="339.50" x2="65.00" y2="590.30" stroke="#d6d6d6" stroke-width="2.7" />
<line x1="89.15" y1="339.50" x2="89.15" y2="590.30" stroke="#d6d6d6" stroke-width="2.7" />
<line x1="113.30" y1="339.50" x2="113.30" y2="590.30" stroke="#d6d6d6" stroke-width="2.7" />
<line x1="137.45" y1="339.50" x2="137.45" y2="590.30" stroke="#d6d6d6" stroke-width="2.7" />
<line x1="161.60" y1="339.50" x2="161.60" y2="590.30" stroke="#d6d6d6" stroke-width="2.7" />
<line x1="185.75" y1="339.50" x2="185.75" y2="590.30" stroke="#d6d6d6" stroke-width="2.7" />
<line x1="209.90" y1="339.50" x2="209.90" y2="590.30" stroke="#d6d6d6" stroke-width="2.7" />
<line x1="234.05" y1="339.50" x2="234.05" y2="590.30" stroke="#d6d6d6" stroke-width="2.7" />
<line x1="258.20" y1="339.50" x2="258.20" y2="590.30" stroke="#d6d6d6" stroke-width="2.7" />
<line x1="282.35" y1="339.50" x2="282.35" y2="590.30" stroke="#d6d6d6" stroke-width="2.7" />
<line x1="47.40" y1="350.10" x2="298.50" y2="350.10" stroke="#d6d6d6" stroke-width="2.7" />
<line x1="47.40" y1="375.65" x2="298.50" y2="375.65" stroke="#d6d6d6" stroke-width="2.7" />
<line x1="47.40" y1="401.20" x2="298.50" y2="401.20" stroke="#d6d6d6" stroke-width="2.7" />
<line x1="47.40" y1="426.75" x2="298.50" y2="426.75" stroke="#d6d6d6" stroke-width="2.7" />
<line x1="47.40" y1="452.30" x2="298.50" y2="452.30" stroke="#d6d6d6" stroke-width="2.7" />
<line x1="47.40" y1="477.85" x2="298.50" y2="477.85" stroke="#d6d6d6" stroke-width="2.7" />
<line x1="47.40" y1="503.40" x2="298.50" y2="503.40" stroke="#d6d6d6" stroke-width="2.7" />
<line x1="47.40" y1="528.95" x2="298.50" y2="528.95" stroke="#d6d6d6" stroke-width="2.7" />
<line x1="47.40" y1="554.50" x2="298.50" y2="554.50" stroke="#d6d6d6" stroke-width="2.7" />
<line x1="47.40" y1="580.05" x2="298.50" y2="580.05" stroke="#d6d6d6" stroke-width="2.7" />
<rect x="55.20" y="342.00" width="19.60" height="19.80" fill="#8a0000"/>
<rect x="79.35" y="342.00" width="19.60" height="19.80" fill="#800000"/>
<rect x="103.50" y="342.00" width="19.60" height="19.80" fill="#b30000"/>
<rect x="127.65" y="342.00" width="19.60" height="19.80" fill="#ff0000"/>
<rect x="151.80" y="342.00" width="19.60" height="19.80" fill="#ff1a00"/>
<rect x="175.95" y="342.00" width="19.60" height="19.80" fill="#ff3300"/>
<rect x="200.10" y="342.00" width="19.60" height="19.80" fill="#ff4c00"/>
<rect x="224.25" y="342.00" width="19.60" height="19.80" fill="#ff8000"/>
<rect x="248.40" y="342.00" width="19.60" height="19.80" fill="#ff9e00"/>
<rect x="272.55" y="342.00" width="19.60" height="19.80" fill="#ffe500"/>
<rect x="55.20" y="366.98" width="19.60" height="19.80" fill="#ff1a00"/>
<rect x="79.35" y="366.98" width="19.60" height="19.80" fill="#f50000"/>
<rect x="103.50" y="366.98" width="19.60" height="19.80" fill="#ff4c00"/>
<rect x="127.65" y="366.98" width="19.60" height="19.80" fill="#ff4200"/>
<rect x="151.80" y="366.98" width="19.60" height="19.80" fill="#ff6600"/>
<rect x="175.95" y="366.98" width="19.60" height="19.80" fill="#ff8a00"/>
<rect x="200.10" y="366.98" width="19.60" height="19.80" fill="#ff8000"/>
<rect x="224.25" y="366.98" width="19.60" height="19.80" fill="#ff8a00"/>
<rect x="248.40" y="366.98" width="19.60" height="19.80" fill="#ffcc00"/>
<rect x="272.55" y="366.98" width="19.60" height="19.80" fill="#ffff00"/>
<rect x="55.20" y="391.96" width="19.60" height="19.80" fill="#ff3300"/>
<rect x="79.35" y="391.96" width="19.60" height="19.80" fill="#ff6100"/>
<rect x="103.50" y="391.96" width="19.60" height="19.80" fill="#ff8a00"/>
<rect x="127.65" y="391.96" width="19.60" height="19.80" fill="#ff8000"/>
<rect x="151.80" y="391.96" width="19.60" height="19.80" fill="#ffb300"/>
<rect x="175.95" y="391.96" width="19.60" height="19.80" fill="#ff9400"/>
<rect x="200.10" y="391.96" width="19.60" height="19.80" fill="#ffe000"/>
<rect x="224.25" y="391.96" width="19.60" height="19.80" fill="#ffff00"/>
<rect x="248.40" y="391.96" width="19.60" height="19.80" fill="#ccff33"/>
<rect x="272.55" y="391.96" width="19.60" height="19.80" fill="#bdff42"/>
<rect x="55.20" y="416.94" width="19.60" height="19.80" fill="#ff8a00"/>
<rect x="79.35" y="416.94" width="19.60" height="19.80" fill="#ffa800"/>
<rect x="103.50" y="416.94" width="19.60" height="19.80" fill="#ff9e00"/>
<rect x="127.65" y="416.94" width="19.60" height="19.80" fill="#ffe500"/>
<rect x="151.80" y="416.94" width="19.60" height="19.80" fill="#ffcc00"/>
<rect x="175.95" y="416.94" width="19.60" height="19.80" fill="#ffdb00"/>
<rect x="200.10" y="416.94" width="19.60" height="19.80" fill="#dbff24"/>
<rect x="224.25" y="416.94" width="19.60" height="19.80" fill="#ccff33"/>
<rect x="248.40" y="416.94" width="19.60" height="19.80" fill="#a8ff57"/>
<rect x="272.55" y="416.94" width="19.60" height="19.80" fill="#80ff80"/>
<rect x="55.20" y="441.92" width="19.60" height="19.80" fill="#fff500"/>
<rect x="79.35" y="441.92" width="19.60" height="19.80" fill="#ffff00"/>
<rect x="103.50" y="441.92" width="19.60" height="19.80" fill="#e0ff1f"/>
<rect x="127.65" y="441.92" width="19.60" height="19.80" fill="#ccff33"/>
<rect x="151.80" y="441.92" width="19.60" height="19.80" fill="#d1ff2e"/>
<rect x="175.95" y="441.92" width="19.60" height="19.80" fill="#a8ff57"/>
<rect x="200.10" y="441.92" width="19.60" height="19.80" fill="#b3ff4c"/>
<rect x="224.25" y="441.92" width="19.60" height="19.80" fill="#80ff80"/>
<rect x="248.40" y="441.92" width="19.60" height="19.80" fill="#4dffb2"/>
<rect x="272.55" y="441.92" width="19.60" height="19.80" fill="#57ffa8"/>
<rect x="55.20" y="466.90" width="19.60" height="19.80" fill="#ccff33"/>
<rect x="79.35" y="466.90" width="19.60" height="19.80" fill="#c7ff38"/>
<rect x="103.50" y="466.90" width="19.60" height="19.80" fill="#80ff80"/>
<rect x="127.65" y="466.90" width="19.60" height="19.80" fill="#8aff75"/>
<rect x="151.80" y="466.90" width="19.60" height="19.80" fill="#80ff80"/>
<rect x="175.95" y="466.90" width="19.60" height="19.80" fill="#75ff8a"/>
<rect x="200.10" y="466.90" width="19.60" height="19.80" fill="#66ff99"/>
<rect x="224.25" y="466.90" width="19.60" height="19.80" fill="#42ffbd"/>
<rect x="248.40" y="466.90" width="19.60" height="19.80" fill="#1affe5"/>
<rect x="272.55" y="466.90" width="19.60" height="19.80" fill="#00ffff"/>
<rect x="55.20" y="491.88" width="19.60" height="19.80" fill="#4dffb2"/>
<rect x="79.35" y="491.88" width="19.60" height="19.80" fill="#33ffcc"/>
<rect x="103.50" y="491.88" width="19.60" height="19.80" fill="#38ffc7"/>
<rect x="127.65" y="491.88" width="19.60" height="19.80" fill="#2effd1"/>
<rect x="151.80" y="491.88" width="19.60" height="19.80" fill="#33ffcc"/>
<rect x="175.95" y="491.88" width="19.60" height="19.80" fill="#1affe5"/>
<rect x="200.10" y="491.88" width="19.60" height="19.80" fill="#0ffff0"/>
<rect x="224.25" y="491.88" width="19.60" height="19.80" fill="#00faff"/>
<rect x="248.40" y="491.88" width="19.60" height="19.80" fill="#00d1ff"/>
<rect x="272.55" y="491.88" width="19.60" height="19.80" fill="#00b8ff"/>
<rect x="55.20" y="516.86" width="19.60" height="19.80" fill="#00ffff"/>
<rect x="79.35" y="516.86" width="19.60" height="19.80" fill="#00f0ff"/>
<rect x="103.50" y="516.86" width="19.60" height="19.80" fill="#00f8ff"/>
<rect x="127.65" y="516.86" width="19.60" height="19.80" fill="#00ccff"/>
<rect x="151.80" y="516.86" width="19.60" height="19.80" fill="#00c7ff"/>
<rect x="175.95" y="516.86" width="19.60" height="19.80" fill="#00b8ff"/>
<rect x="200.10" y="516.86" width="19.60" height="19.80" fill="#00b2ff"/>
<rect x="224.25" y="516.86" width="19.60" height="19.80" fill="#0099ff"/>
<rect x="248.40" y="516.86" width="19.60" height="19.80" fill="#008aff"/>
<rect x="272.55" y="516.86" width="19.60" height="19.80" fill="#007aff"/>
<rect x="55.20" y="541.84" width="19.60" height="19.80" fill="#009eff"/>
<rect x="79.35" y="541.84" width="19.60" height="19.80" fill="#0085ff"/>
<rect x="103.50" y="541.84" width="19.60" height="19.80" fill="#0094ff"/>
<rect x="127.65" y="541.84" width="19.60" height="19.80" fill="#0085ff"/>
<rect x="151.80" y="541.84" width="19.60" height="19.80" fill="#0080ff"/>
<rect x="175.95" y="541.84" width="19.60" height="19.80" fill="#0066ff"/>
<rect x="200.10" y="541.84" width="19.60" height="19.80" fill="#0057ff"/>
<rect x="224.25" y="541.84" width="19.60" height="19.80" fill="#004dff"/>
<rect x="248.40" y="541.84" width="19.60" height="19.80" fill="#0047ff"/>
<rect x="272.55" y="541.84" width="19.60" height="19.80" fill="#0038ff"/>
<rect x="55.20" y="566.82" width="19.60" height="19.80" fill="#002eff"/>
<rect x="79.35" y="566.82" width="19.60" height="19.80" fill="#0038ff"/>
<rect x="103.50" y="566.82" width="19.60" height="19.80" fill="#000fff"/>
<rect x="127.65" y="566.82" width="19.60" height="19.80" fill="#001fff"/>
<rect x="151.80" y="566.82" width="19.60" height="19.80" fill="#0019ff"/>
<rect x="175.95" y="566.82" width="19.60" height="19.80" fill="#0005ff"/>
<rect x="200.10" y="566.82" width="19.60" height="19.80" fill="#0005ff"/>
<rect x="224.25" y="566.82" width="19.60" height="19.80" fill="#0000ff"/>
<rect x="248.40" y="566.82" width="19.60" height="19.80" fill="#0000ff"/>
<rect x="272.55" y="566.82" width="19.60" height="19.80" fill="#0000eb"/>
<line x1="47.40" y1="339.00" x2="47.40" y2="591.60" stroke="#1c1c1c" stroke-width="2.7" />
<line x1="46.05" y1="590.30" x2="300.70" y2="590.30" stroke="#1c1c1c" stroke-width="2.6" />
<line x1="65.00" y1="590.30" x2="65.00" y2="586.10" stroke="#1c1c1c" stroke-width="2.3" />
<text x="60.30" y="606.90" font-size="17.6" text-anchor="middle" fill="#222">32</text>
<line x1="89.15" y1="590.30" x2="89.15" y2="586.10" stroke="#1c1c1c" stroke-width="2.3" />
<text x="86.70" y="606.90" font-size="17.6" text-anchor="middle" fill="#222">29</text>
<line x1="113.30" y1="590.30" x2="113.30" y2="586.10" stroke="#1c1c1c" stroke-width="2.3" />
<text x="112.30" y="606.90" font-size="17.6" text-anchor="middle" fill="#222">26</text>
<line x1="137.45" y1="590.30" x2="137.45" y2="586.10" stroke="#1c1c1c" stroke-width="2.3" />
<text x="138.00" y="606.90" font-size="17.6" text-anchor="middle" fill="#222">23</text>
<line x1="161.60" y1="590.30" x2="161.60" y2="586.10" stroke="#1c1c1c" stroke-width="2.3" />
<text x="163.60" y="606.90" font-size="17.6" text-anchor="middle" fill="#222">20</text>
<line x1="185.75" y1="590.30" x2="185.75" y2="586.10" stroke="#1c1c1c" stroke-width="2.3" />
<text x="184.30" y="606.90" font-size="17.6" text-anchor="middle" fill="#222">17</text>
<line x1="209.90" y1="590.30" x2="209.90" y2="586.10" stroke="#1c1c1c" stroke-width="2.3" />
<text x="209.30" y="606.90" font-size="17.6" text-anchor="middle" fill="#222">14</text>
<line x1="234.05" y1="590.30" x2="234.05" y2="586.10" stroke="#1c1c1c" stroke-width="2.3" />
<text x="233.90" y="606.90" font-size="17.6" text-anchor="middle" fill="#222">11</text>
<line x1="258.20" y1="590.30" x2="258.20" y2="586.10" stroke="#1c1c1c" stroke-width="2.3" />
<text x="259.20" y="606.90" font-size="17.6" text-anchor="middle" fill="#222">8</text>
<line x1="282.35" y1="590.30" x2="282.35" y2="586.10" stroke="#1c1c1c" stroke-width="2.3" />
<text x="283.00" y="606.90" font-size="17.6" text-anchor="middle" fill="#222">5</text>
<line x1="47.40" y1="350.10" x2="51.60" y2="350.10" stroke="#1c1c1c" stroke-width="2.3" />
<text x="43.00" y="356.60" font-size="17.6" text-anchor="end" fill="#222">32</text>
<line x1="47.40" y1="375.65" x2="51.60" y2="375.65" stroke="#1c1c1c" stroke-width="2.3" />
<text x="43.00" y="382.15" font-size="17.6" text-anchor="end" fill="#222">29</text>
<line x1="47.40" y1="401.20" x2="51.60" y2="401.20" stroke="#1c1c1c" stroke-width="2.3" />
<text x="43.00" y="407.70" font-size="17.6" text-anchor="end" fill="#222">26</text>
<line x1="47.40" y1="426.75" x2="51.60" y2="426.75" stroke="#1c1c1c" stroke-width="2.3" />
<text x="43.00" y="433.25" font-size="17.6" text-anchor="end" fill="#222">23</text>
<line x1="47.40" y1="452.30" x2="51.60" y2="452.30" stroke="#1c1c1c" stroke-width="2.3" />
<text x="43.00" y="458.80" font-size="17.6" text-anchor="end" fill="#222">20</text>
<line x1="47.40" y1="477.85" x2="51.60" y2="477.85" stroke="#1c1c1c" stroke-width="2.3" />
<text x="43.00" y="484.35" font-size="17.6" text-anchor="end" fill="#222">17</text>
<line x1="47.40" y1="503.40" x2="51.60" y2="503.40" stroke="#1c1c1c" stroke-width="2.3" />
<text x="43.00" y="509.90" font-size="17.6" text-anchor="end" fill="#222">14</text>
<line x1="47.40" y1="528.95" x2="51.60" y2="528.95" stroke="#1c1c1c" stroke-width="2.3" />
<text x="43.00" y="535.45" font-size="17.6" text-anchor="end" fill="#222">11</text>
<line x1="47.40" y1="554.50" x2="51.60" y2="554.50" stroke="#1c1c1c" stroke-width="2.3" />
<text x="43.00" y="561.00" font-size="17.6" text-anchor="end" fill="#222">8</text>
<line x1="47.40" y1="580.05" x2="51.60" y2="580.05" stroke="#1c1c1c" stroke-width="2.3" />
<text x="43.00" y="586.55" font-size="17.6" text-anchor="end" fill="#222">5</text>
<text x="177.60" y="627.00" font-size="19.1" text-anchor="middle" fill="#222">Inner scale (cm)</text>
<text transform="translate(14.70,464.60) rotate(-90)" font-size="19" text-anchor="middle" fill="#222">Fried parameter (cm)</text>
<text x="173.50" y="328.8" font-size="19.1" text-anchor="middle" fill="#222">Spectrum variance</text>
<text x="-0.20" y="328.8" font-size="19.1" font-weight="bold" fill="#111">(b)</text>
</g>
<rect x="222.4" y="488.6" width="73.6" height="74.4" fill="none" stroke="#000" stroke-width="2.7" stroke-dasharray="0.7 2.5" stroke-linecap="round"/>
<text x="299.6" y="557" font-size="18.4" font-style="italic" fill="#111">(a)</text>
<g>
<line x1="390.50" y1="338.50" x2="390.50" y2="595.00" stroke="#d6d6d6" stroke-width="2.7" />
<line x1="414.43" y1="338.50" x2="414.43" y2="595.00" stroke="#d6d6d6" stroke-width="2.7" />
<line x1="438.36" y1="338.50" x2="438.36" y2="595.00" stroke="#d6d6d6" stroke-width="2.7" />
<line x1="462.29" y1="338.50" x2="462.29" y2="595.00" stroke="#d6d6d6" stroke-width="2.7" />
<line x1="486.22" y1="338.50" x2="486.22" y2="595.00" stroke="#d6d6d6" stroke-width="2.7" />
<line x1="510.15" y1="338.50" x2="510.15" y2="595.00" stroke="#d6d6d6" stroke-width="2.7" />
<line x1="534.08" y1="338.50" x2="534.08" y2="595.00" stroke="#d6d6d6" stroke-width="2.7" />
<line x1="558.01" y1="338.50" x2="558.01" y2="595.00" stroke="#d6d6d6" stroke-width="2.7" />
<line x1="581.94" y1="338.50" x2="581.94" y2="595.00" stroke="#d6d6d6" stroke-width="2.7" />
<line x1="605.87" y1="338.50" x2="605.87" y2="595.00" stroke="#d6d6d6" stroke-width="2.7" />
<line x1="371.50" y1="349.70" x2="621.50" y2="349.70" stroke="#d6d6d6" stroke-width="2.7" />
<line x1="371.50" y1="375.25" x2="621.50" y2="375.25" stroke="#d6d6d6" stroke-width="2.7" />
<line x1="371.50" y1="400.80" x2="621.50" y2="400.80" stroke="#d6d6d6" stroke-width="2.7" />
<line x1="371.50" y1="426.35" x2="621.50" y2="426.35" stroke="#d6d6d6" stroke-width="2.7" />
<line x1="371.50" y1="451.90" x2="621.50" y2="451.90" stroke="#d6d6d6" stroke-width="2.7" />
<line x1="371.50" y1="477.45" x2="621.50" y2="477.45" stroke="#d6d6d6" stroke-width="2.7" />
<line x1="371.50" y1="503.00" x2="621.50" y2="503.00" stroke="#d6d6d6" stroke-width="2.7" />
<line x1="371.50" y1="528.55" x2="621.50" y2="528.55" stroke="#d6d6d6" stroke-width="2.7" />
<line x1="371.50" y1="554.10" x2="621.50" y2="554.10" stroke="#d6d6d6" stroke-width="2.7" />
<line x1="371.50" y1="579.65" x2="621.50" y2="579.65" stroke="#d6d6d6" stroke-width="2.7" />
<rect x="380.80" y="341.20" width="19.40" height="20.20" fill="#0078ff"/>
<rect x="404.73" y="341.20" width="19.40" height="20.20" fill="#0070ff"/>
<rect x="428.66" y="341.20" width="19.40" height="20.20" fill="#0080ff"/>
<rect x="452.59" y="341.20" width="19.40" height="20.20" fill="#0085ff"/>
<rect x="476.52" y="341.20" width="19.40" height="20.20" fill="#008cff"/>
<rect x="500.45" y="341.20" width="19.40" height="20.20" fill="#0099ff"/>
<rect x="524.38" y="341.20" width="19.40" height="20.20" fill="#00a1ff"/>
<rect x="548.31" y="341.20" width="19.40" height="20.20" fill="#00adff"/>
<rect x="572.24" y="341.20" width="19.40" height="20.20" fill="#00bfff"/>
<rect x="596.17" y="341.20" width="19.40" height="20.20" fill="#00e5ff"/>
<rect x="380.80" y="366.65" width="19.40" height="20.20" fill="#0080ff"/>
<rect x="404.73" y="366.65" width="19.40" height="20.20" fill="#0080ff"/>
<rect x="428.66" y="366.65" width="19.40" height="20.20" fill="#008cff"/>
<rect x="452.59" y="366.65" width="19.40" height="20.20" fill="#008cff"/>
<rect x="476.52" y="366.65" width="19.40" height="20.20" fill="#0094ff"/>
<rect x="500.45" y="366.65" width="19.40" height="20.20" fill="#009eff"/>
<rect x="524.38" y="366.65" width="19.40" height="20.20" fill="#00a6ff"/>
<rect x="548.31" y="366.65" width="19.40" height="20.20" fill="#00b2ff"/>
<rect x="572.24" y="366.65" width="19.40" height="20.20" fill="#00c7ff"/>
<rect x="596.17" y="366.65" width="19.40" height="20.20" fill="#00f2ff"/>
<rect x="380.80" y="392.10" width="19.40" height="20.20" fill="#0085ff"/>
<rect x="404.73" y="392.10" width="19.40" height="20.20" fill="#008cff"/>
<rect x="428.66" y="392.10" width="19.40" height="20.20" fill="#0091ff"/>
<rect x="452.59" y="392.10" width="19.40" height="20.20" fill="#0094ff"/>
<rect x="476.52" y="392.10" width="19.40" height="20.20" fill="#0099ff"/>
<rect x="500.45" y="392.10" width="19.40" height="20.20" fill="#00a6ff"/>
<rect x="524.38" y="392.10" width="19.40" height="20.20" fill="#00b2ff"/>
<rect x="548.31" y="392.10" width="19.40" height="20.20" fill="#00bfff"/>
<rect x="572.24" y="392.10" width="19.40" height="20.20" fill="#00d9ff"/>
<rect x="596.17" y="392.10" width="19.40" height="20.20" fill="#08fff7"/>
<rect x="380.80" y="417.55" width="19.40" height="20.20" fill="#0094ff"/>
<rect x="404.73" y="417.55" width="19.40" height="20.20" fill="#0099ff"/>
<rect x="428.66" y="417.55" width="19.40" height="20.20" fill="#0099ff"/>
<rect x="452.59" y="417.55" width="19.40" height="20.20" fill="#00a6ff"/>
<rect x="476.52" y="417.55" width="19.40" height="20.20" fill="#00a6ff"/>
<rect x="500.45" y="417.55" width="19.40" height="20.20" fill="#00b2ff"/>
<rect x="524.38" y="417.55" width="19.40" height="20.20" fill="#00bfff"/>
<rect x="548.31" y="417.55" width="19.40" height="20.20" fill="#00d1ff"/>
<rect x="572.24" y="417.55" width="19.40" height="20.20" fill="#00f7ff"/>
<rect x="596.17" y="417.55" width="19.40" height="20.20" fill="#33ffcc"/>
<rect x="380.80" y="443.00" width="19.40" height="20.20" fill="#00adff"/>
<rect x="404.73" y="443.00" width="19.40" height="20.20" fill="#00adff"/>
<rect x="428.66" y="443.00" width="19.40" height="20.20" fill="#00b2ff"/>
<rect x="452.59" y="443.00" width="19.40" height="20.20" fill="#00bfff"/>
<rect x="476.52" y="443.00" width="19.40" height="20.20" fill="#00bfff"/>
<rect x="500.45" y="443.00" width="19.40" height="20.20" fill="#00d1ff"/>
<rect x="524.38" y="443.00" width="19.40" height="20.20" fill="#00d9ff"/>
<rect x="548.31" y="443.00" width="19.40" height="20.20" fill="#00f7ff"/>
<rect x="572.24" y="443.00" width="19.40" height="20.20" fill="#1affe5"/>
<rect x="596.17" y="443.00" width="19.40" height="20.20" fill="#55ffaa"/>
<rect x="380.80" y="468.45" width="19.40" height="20.20" fill="#00b8ff"/>
<rect x="404.73" y="468.45" width="19.40" height="20.20" fill="#00bfff"/>
<rect x="428.66" y="468.45" width="19.40" height="20.20" fill="#00ccff"/>
<rect x="452.59" y="468.45" width="19.40" height="20.20" fill="#00ccff"/>
<rect x="476.52" y="468.45" width="19.40" height="20.20" fill="#00d9ff"/>
<rect x="500.45" y="468.45" width="19.40" height="20.20" fill="#00ebff"/>
<rect x="524.38" y="468.45" width="19.40" height="20.20" fill="#00ffff"/>
<rect x="548.31" y="468.45" width="19.40" height="20.20" fill="#1fffe0"/>
<rect x="572.24" y="468.45" width="19.40" height="20.20" fill="#40ffbf"/>
<rect x="596.17" y="468.45" width="19.40" height="20.20" fill="#6bff94"/>
<rect x="380.80" y="493.90" width="19.40" height="20.20" fill="#00e5ff"/>
<rect x="404.73" y="493.90" width="19.40" height="20.20" fill="#00f7ff"/>
<rect x="428.66" y="493.90" width="19.40" height="20.20" fill="#00ffff"/>
<rect x="452.59" y="493.90" width="19.40" height="20.20" fill="#00ffff"/>
<rect x="476.52" y="493.90" width="19.40" height="20.20" fill="#08fff7"/>
<rect x="500.45" y="493.90" width="19.40" height="20.20" fill="#26ffd9"/>
<rect x="524.38" y="493.90" width="19.40" height="20.20" fill="#33ffcc"/>
<rect x="548.31" y="493.90" width="19.40" height="20.20" fill="#40ffbf"/>
<rect x="572.24" y="493.90" width="19.40" height="20.20" fill="#6bff94"/>
<rect x="596.17" y="493.90" width="19.40" height="20.20" fill="#99ff66"/>
<rect x="380.80" y="519.35" width="19.40" height="20.20" fill="#26ffd9"/>
<rect x="404.73" y="519.35" width="19.40" height="20.20" fill="#33ffcc"/>
<rect x="428.66" y="519.35" width="19.40" height="20.20" fill="#26ffd9"/>
<rect x="452.59" y="519.35" width="19.40" height="20.20" fill="#4dffb2"/>
<rect x="476.52" y="519.35" width="19.40" height="20.20" fill="#4dffb2"/>
<rect x="500.45" y="519.35" width="19.40" height="20.20" fill="#6bff94"/>
<rect x="524.38" y="519.35" width="19.40" height="20.20" fill="#73ff8c"/>
<rect x="548.31" y="519.35" width="19.40" height="20.20" fill="#80ff80"/>
<rect x="572.24" y="519.35" width="19.40" height="20.20" fill="#b3ff4c"/>
<rect x="596.17" y="519.35" width="19.40" height="20.20" fill="#eeff11"/>
<rect x="380.80" y="544.80" width="19.40" height="20.20" fill="#80ff80"/>
<rect x="404.73" y="544.80" width="19.40" height="20.20" fill="#9eff61"/>
<rect x="428.66" y="544.80" width="19.40" height="20.20" fill="#8cff73"/>
<rect x="452.59" y="544.80" width="19.40" height="20.20" fill="#99ff66"/>
<rect x="476.52" y="544.80" width="19.40" height="20.20" fill="#b3ff4c"/>
<rect x="500.45" y="544.80" width="19.40" height="20.20" fill="#d9ff26"/>
<rect x="524.38" y="544.80" width="19.40" height="20.20" fill="#f2ff0d"/>
<rect x="548.31" y="544.80" width="19.40" height="20.20" fill="#ffff00"/>
<rect x="572.24" y="544.80" width="19.40" height="20.20" fill="#ffd100"/>
<rect x="596.17" y="544.80" width="19.40" height="20.20" fill="#ff8000"/>
<rect x="380.80" y="570.25" width="19.40" height="20.20" fill="#ffb300"/>
<rect x="404.73" y="570.25" width="19.40" height="20.20" fill="#ffd100"/>
<rect x="428.66" y="570.25" width="19.40" height="20.20" fill="#ff6b00"/>
<rect x="452.59" y="570.25" width="19.40" height="20.20" fill="#ff9400"/>
<rect x="476.52" y="570.25" width="19.40" height="20.20" fill="#ff7300"/>
<rect x="500.45" y="570.25" width="19.40" height="20.20" fill="#ff4000"/>
<rect x="524.38" y="570.25" width="19.40" height="20.20" fill="#ff1a00"/>
<rect x="548.31" y="570.25" width="19.40" height="20.20" fill="#ff0000"/>
<rect x="572.24" y="570.25" width="19.40" height="20.20" fill="#bf0000"/>
<rect x="596.17" y="570.25" width="19.40" height="20.20" fill="#800000"/>
<line x1="371.50" y1="338.00" x2="371.50" y2="596.30" stroke="#1c1c1c" stroke-width="2.7" />
<line x1="370.15" y1="595.00" x2="623.70" y2="595.00" stroke="#1c1c1c" stroke-width="2.6" />
<line x1="390.50" y1="595.00" x2="390.50" y2="590.80" stroke="#1c1c1c" stroke-width="2.3" />
<text x="384.60" y="611.60" font-size="17.6" text-anchor="middle" fill="#222">32</text>
<line x1="414.43" y1="595.00" x2="414.43" y2="590.80" stroke="#1c1c1c" stroke-width="2.3" />
<text x="410.90" y="611.60" font-size="17.6" text-anchor="middle" fill="#222">29</text>
<line x1="438.36" y1="595.00" x2="438.36" y2="590.80" stroke="#1c1c1c" stroke-width="2.3" />
<text x="436.50" y="611.60" font-size="17.6" text-anchor="middle" fill="#222">26</text>
<line x1="462.29" y1="595.00" x2="462.29" y2="590.80" stroke="#1c1c1c" stroke-width="2.3" />
<text x="462.20" y="611.60" font-size="17.6" text-anchor="middle" fill="#222">23</text>
<line x1="486.22" y1="595.00" x2="486.22" y2="590.80" stroke="#1c1c1c" stroke-width="2.3" />
<text x="487.80" y="611.60" font-size="17.6" text-anchor="middle" fill="#222">20</text>
<line x1="510.15" y1="595.00" x2="510.15" y2="590.80" stroke="#1c1c1c" stroke-width="2.3" />
<text x="509.30" y="611.60" font-size="17.6" text-anchor="middle" fill="#222">17</text>
<line x1="534.08" y1="595.00" x2="534.08" y2="590.80" stroke="#1c1c1c" stroke-width="2.3" />
<text x="533.50" y="611.60" font-size="17.6" text-anchor="middle" fill="#222">14</text>
<line x1="558.01" y1="595.00" x2="558.01" y2="590.80" stroke="#1c1c1c" stroke-width="2.3" />
<text x="558.90" y="611.60" font-size="17.6" text-anchor="middle" fill="#222">11</text>
<line x1="581.94" y1="595.00" x2="581.94" y2="590.80" stroke="#1c1c1c" stroke-width="2.3" />
<text x="583.40" y="611.60" font-size="17.6" text-anchor="middle" fill="#222">8</text>
<line x1="605.87" y1="595.00" x2="605.87" y2="590.80" stroke="#1c1c1c" stroke-width="2.3" />
<text x="607.00" y="611.60" font-size="17.6" text-anchor="middle" fill="#222">5</text>
<line x1="371.50" y1="349.70" x2="375.70" y2="349.70" stroke="#1c1c1c" stroke-width="2.3" />
<text x="367.10" y="356.20" font-size="17.6" text-anchor="end" fill="#222">32</text>
<line x1="371.50" y1="375.25" x2="375.70" y2="375.25" stroke="#1c1c1c" stroke-width="2.3" />
<text x="367.10" y="381.75" font-size="17.6" text-anchor="end" fill="#222">29</text>
<line x1="371.50" y1="400.80" x2="375.70" y2="400.80" stroke="#1c1c1c" stroke-width="2.3" />
<text x="367.10" y="407.30" font-size="17.6" text-anchor="end" fill="#222">26</text>
<line x1="371.50" y1="426.35" x2="375.70" y2="426.35" stroke="#1c1c1c" stroke-width="2.3" />
<text x="367.10" y="432.85" font-size="17.6" text-anchor="end" fill="#222">23</text>
<line x1="371.50" y1="451.90" x2="375.70" y2="451.90" stroke="#1c1c1c" stroke-width="2.3" />
<text x="367.10" y="458.40" font-size="17.6" text-anchor="end" fill="#222">20</text>
<line x1="371.50" y1="477.45" x2="375.70" y2="477.45" stroke="#1c1c1c" stroke-width="2.3" />
<text x="367.10" y="483.95" font-size="17.6" text-anchor="end" fill="#222">17</text>
<line x1="371.50" y1="503.00" x2="375.70" y2="503.00" stroke="#1c1c1c" stroke-width="2.3" />
<text x="367.10" y="509.50" font-size="17.6" text-anchor="end" fill="#222">14</text>
<line x1="371.50" y1="528.55" x2="375.70" y2="528.55" stroke="#1c1c1c" stroke-width="2.3" />
<text x="367.10" y="535.05" font-size="17.6" text-anchor="end" fill="#222">11</text>
<line x1="371.50" y1="554.10" x2="375.70" y2="554.10" stroke="#1c1c1c" stroke-width="2.3" />
<text x="367.10" y="560.60" font-size="17.6" text-anchor="end" fill="#222">8</text>
<line x1="371.50" y1="579.65" x2="375.70" y2="579.65" stroke="#1c1c1c" stroke-width="2.3" />
<text x="367.10" y="586.15" font-size="17.6" text-anchor="end" fill="#222">5</text>
<text x="502.60" y="631.70" font-size="19.1" text-anchor="middle" fill="#222">Inner scale (cm)</text>
<text transform="translate(338.60,464.60) rotate(-90)" font-size="19" text-anchor="middle" fill="#222">Fried parameter (cm)</text>
<text x="498.50" y="328.8" font-size="19.1" text-anchor="middle" fill="#222">Weighted sum of the spectrum</text>
<text x="323.50" y="328.8" font-size="19.1" font-weight="bold" fill="#111">(c)</text>
</g>
<defs><linearGradient id="jetg" x1="0" y1="1" x2="0" y2="0">
<stop offset="0.0000" stop-color="#000080"/>
<stop offset="0.0156" stop-color="#00008f"/>
<stop offset="0.0312" stop-color="#00009f"/>
<stop offset="0.0469" stop-color="#0000af"/>
<stop offset="0.0625" stop-color="#0000bf"/>
<stop offset="0.0781" stop-color="#0000cf"/>
<stop offset="0.0938" stop-color="#0000df"/>
<stop offset="0.1094" stop-color="#0000ef"/>
<stop offset="0.1250" stop-color="#0000ff"/>
<stop offset="0.1406" stop-color="#0010ff"/>
<stop offset="0.1562" stop-color="#0020ff"/>
<stop offset="0.1719" stop-color="#0030ff"/>
<stop offset="0.1875" stop-color="#0040ff"/>
<stop offset="0.2031" stop-color="#0050ff"/>
<stop offset="0.2188" stop-color="#0060ff"/>
<stop offset="0.2344" stop-color="#0070ff"/>
<stop offset="0.2500" stop-color="#0080ff"/>
<stop offset="0.2656" stop-color="#008fff"/>
<stop offset="0.2812" stop-color="#009fff"/>
<stop offset="0.2969" stop-color="#00afff"/>
<stop offset="0.3125" stop-color="#00bfff"/>
<stop offset="0.3281" stop-color="#00cfff"/>
<stop offset="0.3438" stop-color="#00dfff"/>
<stop offset="0.3594" stop-color="#00efff"/>
<stop offset="0.3750" stop-color="#00ffff"/>
<stop offset="0.3906" stop-color="#10ffef"/>
<stop offset="0.4062" stop-color="#20ffdf"/>
<stop offset="0.4219" stop-color="#30ffcf"/>
<stop offset="0.4375" stop-color="#40ffbf"/>
<stop offset="0.4531" stop-color="#50ffaf"/>
<stop offset="0.4688" stop-color="#60ff9f"/>
<stop offset="0.4844" stop-color="#70ff8f"/>
<stop offset="0.5000" stop-color="#80ff80"/>
<stop offset="0.5156" stop-color="#8fff70"/>
<stop offset="0.5312" stop-color="#9fff60"/>
<stop offset="0.5469" stop-color="#afff50"/>
<stop offset="0.5625" stop-color="#bfff40"/>
<stop offset="0.5781" stop-color="#cfff30"/>
<stop offset="0.5938" stop-color="#dfff20"/>
<stop offset="0.6094" stop-color="#efff10"/>
<stop offset="0.6250" stop-color="#ffff00"/>
<stop offset="0.6406" stop-color="#ffef00"/>
<stop offset="0.6562" stop-color="#ffdf00"/>
<stop offset="0.6719" stop-color="#ffcf00"/>
<stop offset="0.6875" stop-color="#ffbf00"/>
<stop offset="0.7031" stop-color="#ffaf00"/>
<stop offset="0.7188" stop-color="#ff9f00"/>
<stop offset="0.7344" stop-color="#ff8f00"/>
<stop offset="0.7500" stop-color="#ff8000"/>
<stop offset="0.7656" stop-color="#ff7000"/>
<stop offset="0.7812" stop-color="#ff6000"/>
<stop offset="0.7969" stop-color="#ff5000"/>
<stop offset="0.8125" stop-color="#ff4000"/>
<stop offset="0.8281" stop-color="#ff3000"/>
<stop offset="0.8438" stop-color="#ff2000"/>
<stop offset="0.8594" stop-color="#ff1000"/>
<stop offset="0.8750" stop-color="#ff0000"/>
<stop offset="0.8906" stop-color="#ef0000"/>
<stop offset="0.9062" stop-color="#df0000"/>
<stop offset="0.9219" stop-color="#cf0000"/>
<stop offset="0.9375" stop-color="#bf0000"/>
<stop offset="0.9531" stop-color="#af0000"/>
<stop offset="0.9688" stop-color="#9f0000"/>
<stop offset="0.9844" stop-color="#8f0000"/>
<stop offset="1.0000" stop-color="#800000"/>
</linearGradient></defs>
<rect x="630.5" y="340" width="12.4" height="251.2" fill="url(#jetg)" stroke="#222" stroke-width="1.4"/>
<text x="645" y="597.10" font-size="17.3" fill="#111">0</text>
<line x1="643.50" y1="540.74" x2="640.50" y2="540.74" stroke="#222" stroke-width="1.2" />
<text x="645" y="546.94" font-size="17.3" fill="#111">0.2</text>
<line x1="643.50" y1="490.58" x2="640.50" y2="490.58" stroke="#222" stroke-width="1.2" />
<text x="645" y="496.78" font-size="17.3" fill="#111">0.4</text>
<line x1="643.50" y1="440.42" x2="640.50" y2="440.42" stroke="#222" stroke-width="1.2" />
<text x="645" y="446.62" font-size="17.3" fill="#111">0.6</text>
<line x1="643.50" y1="390.26" x2="640.50" y2="390.26" stroke="#222" stroke-width="1.2" />
<text x="645" y="396.46" font-size="17.3" fill="#111">0.8</text>
<text x="645" y="346.30" font-size="17.3" fill="#111">1.0</text>
<text transform="translate(682.2,469) rotate(-90)" font-size="19.1" text-anchor="middle" fill="#111">Norm. to Max</text>
</svg>
</body></html>
